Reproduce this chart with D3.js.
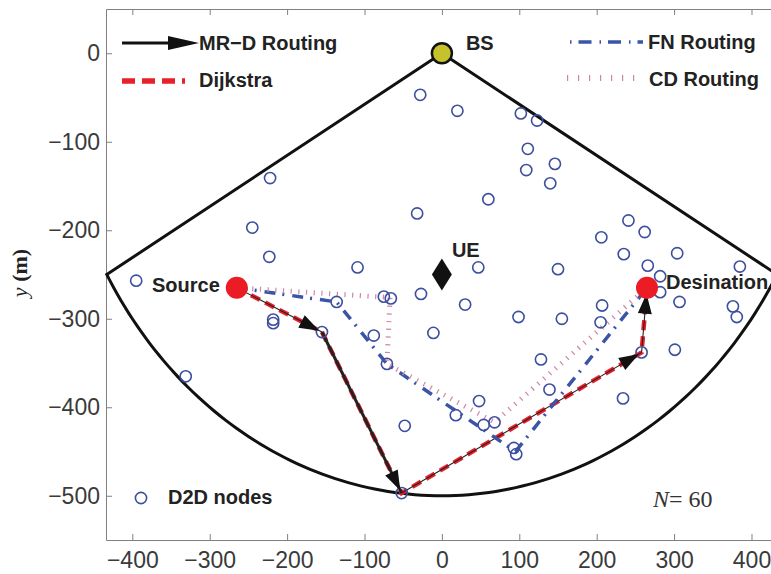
<!DOCTYPE html>
<html>
<head>
<meta charset="utf-8">
<script src="https://cdn.jsdelivr.net/npm/d3@7"></script>
<style>
  body { margin: 0; background: #fff; }
  svg { display: block; }
  .tick text { font-family: "Liberation Sans", Arial, sans-serif; }
</style>
</head>
<body>
<div id="chart"></div>
<script>
// axis ticks
const xTicks = [-400, -300, -200, -100, 0, 100, 200, 300, 400];
const yTicks = [0, -100, -200, -300, -400, -500];

// D2D node positions
const nodeX = [-28, 20, 102, 123, 111, 146, 109, 140, 60, -32, -222, -245, -223, -109, 47, 150, -395,
    241, 262, 206, 235, 304, 266, 385, 282, 282, 307, -27, 30, -11, 99, 155, 207, 205, 376, 381,
    301, 258, 128, 139, 234, -66, -75, -136, -155, -88, -71, -218, -218, -331, 48, 18, 54, 68, -48, 93, 96, -52];
const nodeY = [-47, -65, -68, -76, -108, -125, -132, -147, -165, -181, -141, -197, -230, -242, -242, -244, -257,
    -189, -202, -208, -227, -226, -240, -241, -252, -270, -281, -272, -284, -316, -298, -300, -285, -304, -286, -298,
    -335, -338, -346, -380, -390, -277, -275, -281, -315, -319, -351, -301, -305, -365, -393, -409, -420, -417, -421, -446, -453, -497];

// special points
const bsPos = [0, 0];
const uePos = [0, -250];
const sourcePos = [-265, -265];
const destPos = [265, -265];

// cell coverage sector
const sectorRadius = 500;
const sectorAngles = [210, 330];

// routes
const mrdX = [-265, -155, -52, 258, 265];
const mrdY = [-265, -315, -497, -338, -265];
const dijkstraX = [-265, -155, -52, 258, 265];
const dijkstraY = [-265, -315, -497, -338, -265];
const fnX = [-265, -136, -71, 95, 265];
const fnY = [-265, -281, -351, -450, -265];
const cdX = [-265, -67, -71, 68, 265];
const cdY = [-265, -276, -351, -417, -265];

const width = 771, height = 574;
const margin = {top: 9, left: 106, bottom: 34};

const svg = d3.select("#chart").append("svg").attr("width", width).attr("height", height);

const x = d3.scaleLinear().domain([-434, 434]).range([106, 777.8]);
const y = d3.scaleLinear().domain([-550, 50]).range([height - margin.bottom, margin.top]);

const axisCol = "#808080";
const labelCol = "#3a3a3a";

// axes (box style, ticks inside)
const gx = svg.append("g").attr("transform", `translate(0,${y(-550)})`)
    .call(d3.axisBottom(x).tickValues(xTicks).tickSize(-6).tickSizeOuter(0).tickPadding(11.5));
const gy = svg.append("g").attr("transform", `translate(${x(-434)},0)`)
    .call(d3.axisLeft(y).tickValues(yTicks).tickSize(-6).tickSizeOuter(0).tickPadding(6));
const gxt = svg.append("g").attr("transform", `translate(0,${y(50)})`)
    .call(d3.axisTop(x).tickValues(xTicks).tickSize(-6).tickSizeOuter(0).tickFormat(""));
const gyr = svg.append("g").attr("transform", `translate(${x(434)},0)`)
    .call(d3.axisRight(y).tickValues(yTicks).tickSize(-6).tickSizeOuter(0).tickFormat(""));
[gx, gy, gxt, gyr].forEach(g => {
    g.selectAll("path, line").attr("stroke", axisCol);
    g.selectAll("text").attr("fill", labelCol).style("font-size", "23px");
});

// y label
const ylab = svg.append("text").attr("transform", "translate(27,273) rotate(-90)")
    .attr("text-anchor", "middle").style("font-family", "'Liberation Serif', 'DejaVu Serif', serif")
    .style("font-size", "22px").attr("fill", "#222");
ylab.append("tspan").style("font-style", "italic").text("y");
ylab.append("tspan").style("font-weight", "bold").text(" (m)");

// sector
const arcPts = d3.range(sectorAngles[0], sectorAngles[1] + 0.5, 1).map(a => {
    const r = a * Math.PI / 180;
    return [sectorRadius * Math.cos(r), sectorRadius * Math.sin(r)];
});
const sectorPts = [bsPos, ...arcPts, bsPos];
svg.append("path").datum(sectorPts)
    .attr("d", d3.line().x(d => x(d[0])).y(d => y(d[1])))
    .attr("fill", "none").attr("stroke", "#111").attr("stroke-width", 3).attr("stroke-linejoin", "miter");

const line = d3.line().x(d => x(d[0])).y(d => y(d[1]));
const zip = (xs, ys) => xs.map((v, i) => [v, ys[i]]);

// Dijkstra
svg.append("path").datum(zip(dijkstraX, dijkstraY)).attr("d", line)
    .attr("fill", "none").attr("stroke", "#e8202a").attr("stroke-width", 4.5).attr("stroke-dasharray", "10,6");

// MR-D lines
const mrd = zip(mrdX, mrdY);
for (let i = 0; i < mrd.length - 1; i++) {
    svg.append("path").datum([mrd[i], mrd[i + 1]]).attr("d", line)
        .attr("fill", "none").attr("stroke", "#222").attr("stroke-width", i === 1 ? 3 : 1.1);
}

// FN routing
svg.append("path").datum(zip(fnX, fnY)).attr("d", line)
    .attr("fill", "none").attr("stroke", "#3a55a8").attr("stroke-width", 3.5).attr("stroke-dasharray", "11,7,2,8");

// CD routing
svg.append("path").datum(zip(cdX, cdY)).attr("d", line)
    .attr("fill", "none").attr("stroke", "#cf86a6").attr("stroke-width", 5).attr("stroke-dasharray", "1.2,6.5");

// D2D nodes
svg.selectAll(".node").data(zip(nodeX, nodeY)).enter().append("circle").attr("class", "node")
    .attr("cx", d => x(d[0])).attr("cy", d => y(d[1])).attr("r", 5.6)
    .attr("fill", "none").attr("stroke", "#3d4f9e").attr("stroke-width", 1.6);

// arrow heads
function arrowHead(x0, y0, x1, y1, len, w, back) {
    const dx = x1 - x0, dy = y1 - y0, L = Math.hypot(dx, dy);
    const ux = dx / L, uy = dy / L;
    const tx = x1 - ux * back, ty = y1 - uy * back;
    const bx = tx - ux * len, by = ty - uy * len;
    return `M${tx},${ty}L${bx - uy * w / 2},${by + ux * w / 2}L${bx + uy * w / 2},${by - ux * w / 2}Z`;
}
for (let i = 0; i < mrd.length - 1; i++) {
    svg.append("path")
        .attr("d", arrowHead(x(mrd[i][0]), y(mrd[i][1]), x(mrd[i + 1][0]), y(mrd[i + 1][1]), 20, 14, i === mrd.length - 2 ? 6 : 3))
        .attr("fill", "#111");
}

// BS, source, destination, UE
svg.append("circle").attr("cx", x(bsPos[0])).attr("cy", y(bsPos[1])).attr("r", 10)
    .attr("fill", "#c6c22c").attr("stroke", "#111").attr("stroke-width", 2.5);
svg.selectAll(".sd").data([sourcePos, destPos]).enter().append("circle")
    .attr("cx", d => x(d[0])).attr("cy", d => y(d[1])).attr("r", 11).attr("fill", "#ec1c24");
const ux = x(uePos[0]), uy = y(uePos[1]);
svg.append("path").attr("d", `M${ux},${uy - 16}L${ux + 10},${uy}L${ux},${uy + 16}L${ux - 10},${uy}Z`).attr("fill", "#111");

const bold = {"font-family": "'Liberation Sans', Arial, sans-serif", "font-weight": "bold", "font-size": "20px", "fill": "#222"};
function label(txt, px, py, anchor) {
    const t = svg.append("text").attr("x", px).attr("y", py).attr("text-anchor", anchor || "start").text(txt);
    Object.entries(bold).forEach(([k, v]) => t.style(k, v));
    return t;
}
label("BS", x(bsPos[0]) + 24, y(bsPos[1]) - 3);
label("UE", x(uePos[0]) + 10, y(uePos[1]) - 18);
label("Source", x(sourcePos[0]) - 17, y(sourcePos[1]) + 4, "end");
label("Desination", x(destPos[0]) + 19, y(destPos[1]) + 1);

// legend
svg.append("line").attr("x1", 122).attr("x2", 172).attr("y1", 43).attr("y2", 43)
    .attr("stroke", "#111").attr("stroke-width", 3);
svg.append("path").attr("d", arrowHead(122, 43, 199, 43, 31, 14, 0)).attr("fill", "#111");
label("MR\u2212D Routing", 199, 50);

svg.append("line").attr("x1", 122).attr("x2", 185).attr("y1", 81).attr("y2", 81)
    .attr("stroke", "#e8202a").attr("stroke-width", 5.5).attr("stroke-dasharray", "13,7");
label("Dijkstra", 199, 87);

svg.append("line").attr("x1", 570).attr("x2", 643).attr("y1", 42).attr("y2", 42)
    .attr("stroke", "#3a55a8").attr("stroke-width", 3.5).attr("stroke-dasharray", "1.5,7,13,8");
label("FN Routing", 648, 49);

svg.append("line").attr("x1", 567).attr("x2", 640).attr("y1", 78).attr("y2", 78)
    .attr("stroke", "#cf86a6").attr("stroke-width", 6).attr("stroke-dasharray", "1.2,9.8");
label("CD Routing", 649, 86);

svg.append("circle").attr("cx", 141).attr("cy", 498).attr("r", 5.6)
    .attr("fill", "none").attr("stroke", "#3d4f9e").attr("stroke-width", 1.6);
label("D2D nodes", 168, 504);

const nt = svg.append("text").attr("x", 653).attr("y", 507)
    .style("font-family", "'Liberation Serif', 'DejaVu Serif', serif").style("font-size", "24px").attr("fill", "#333");
nt.append("tspan").style("font-style", "italic").text("N");
nt.append("tspan").text("= 60");
</script>
</body>
</html>
